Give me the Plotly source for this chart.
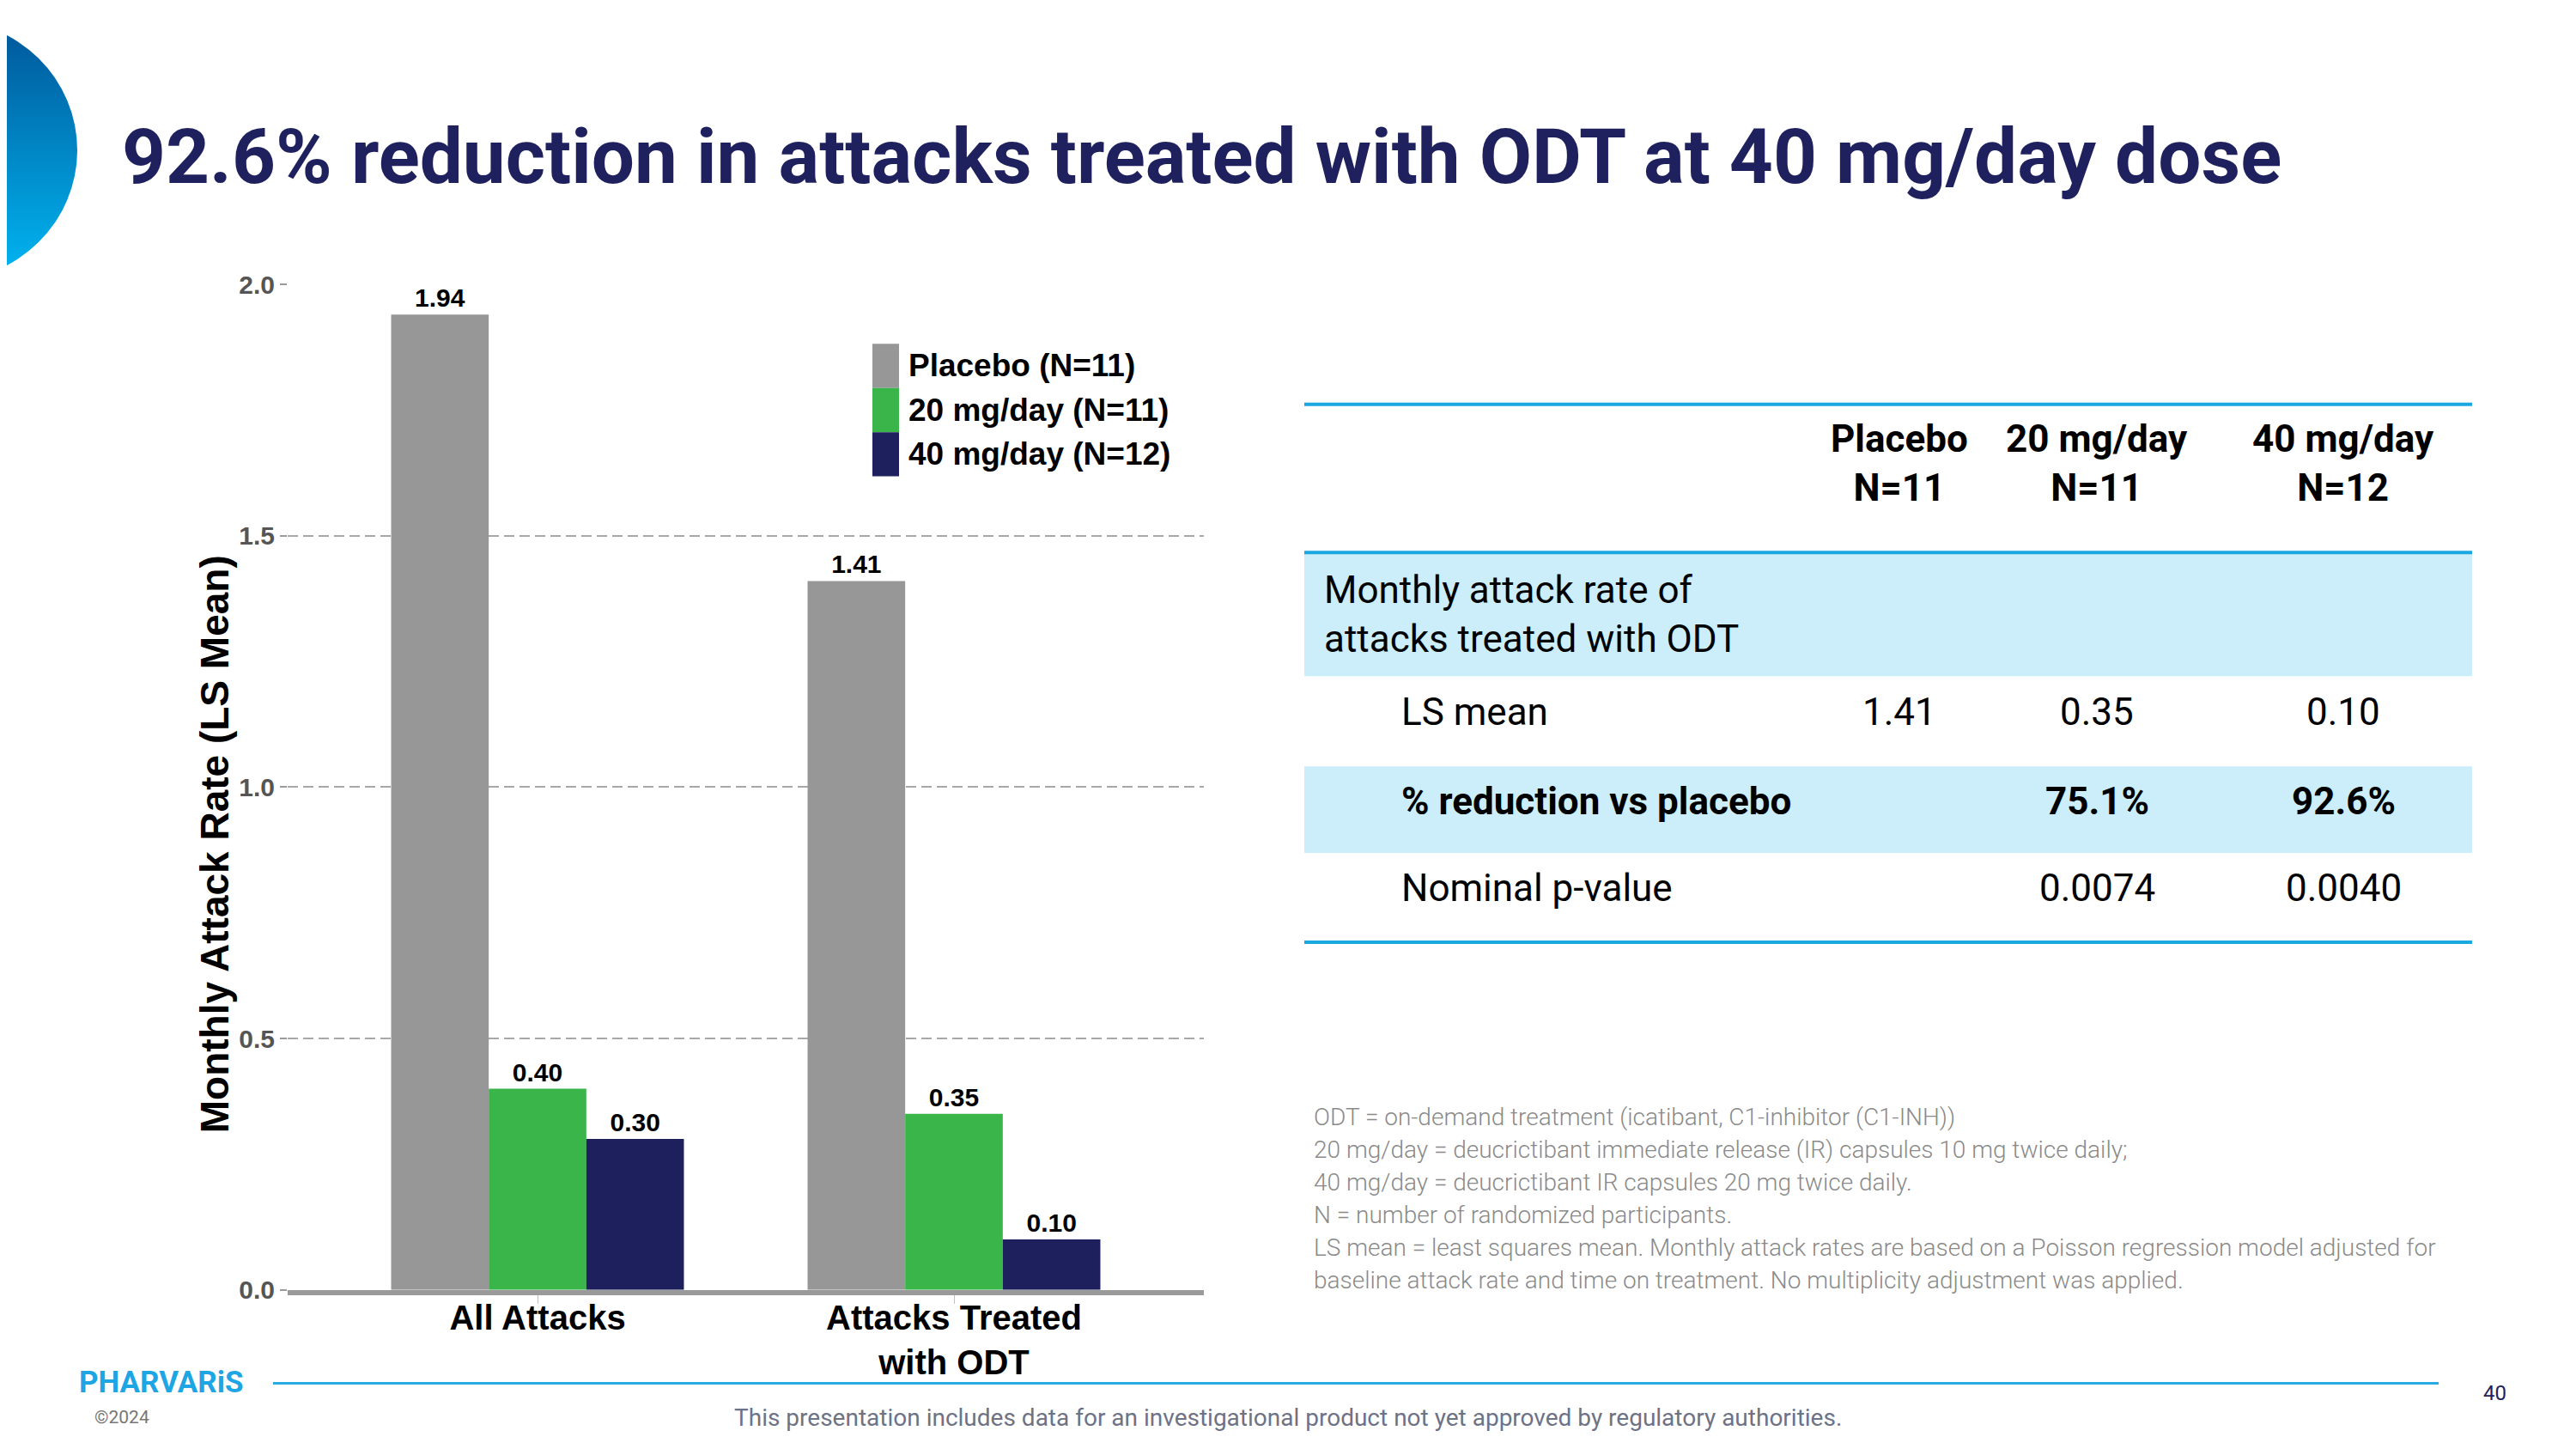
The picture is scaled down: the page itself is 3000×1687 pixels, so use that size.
import base64
import plotly.graph_objects as go

# ---- data ----
categories = ["All Attacks", "Attacks Treated<br>with ODT"]
series_names = ["Placebo (N=11)", "20 mg/day (N=11)", "40 mg/day (N=12)"]
placebo = [1.94, 1.41]
mg20 = [0.40, 0.35]
mg40 = [0.30, 0.10]
y_ticks = [0.0, 0.5, 1.0, 1.5, 2.0]

table_header = ["Placebo<br>N=11", "20 mg/day<br>N=11", "40 mg/day<br>N=12"]
section_label = "Monthly attack rate of<br>attacks treated with ODT"
row_labels = ["LS mean", "<b>% reduction vs placebo</b>", "Nominal p-value"]
ls_mean = ["1.41", "0.35", "0.10"]
pct_reduction = ["", "<b>75.1%</b>", "<b>92.6%</b>"]
p_values = ["", "0.0074", "0.0040"]

footnotes = [
    "ODT = on-demand treatment (icatibant, C1-inhibitor (C1-INH))",
    "20 mg/day = deucrictibant immediate release (IR) capsules 10 mg twice daily;",
    "40 mg/day = deucrictibant IR capsules 20 mg twice daily.",
    "N = number of randomized participants.",
    "LS mean = least squares mean. Monthly attack rates are based on a Poisson regression model adjusted for",
    "baseline attack rate and time on treatment. No multiplicity adjustment was applied.",
]

title = "92.6% reduction in attacks treated with ODT at 40 mg/day dose"
disclaimer = "This presentation includes data for an investigational product not yet approved by regulatory authorities."

bar_colors = ["#979797", "#3ab54a", "#1e205d"]
NAVY = "#1e215e"
BLUE = "#1ba8e0"
BAND = "#cbeefa"

W, H = 3000, 1687


def px(x):
    return x / W


def py(y):
    return 1 - y / H


fig = go.Figure()
for name, vals, col in zip(series_names, [placebo, mg20, mg40], bar_colors):
    fig.add_trace(go.Bar(
        x=categories, y=vals, name=name,
        marker=dict(color=col, line=dict(width=0)),
        texttemplate="%{y:.2f}", textposition="outside",
        textfont=dict(family="Liberation Sans", size=30, color="black", weight="bold"),
        cliponaxis=False, showlegend=False,
    ))

shapes = []
annotations = []

# legend drawn by hand (big square swatches like the slide)
for i, (name, col) in enumerate(zip(series_names, bar_colors)):
    top = 383 + i * 52.5
    shapes.append(dict(type="rect", xref="paper", yref="paper",
                       x0=px(1008), x1=px(1039), y0=py(top), y1=py(top + 52.5),
                       fillcolor=col, line=dict(width=0)))
    annotations.append(dict(text=name, x=px(1048), y=py(top + 26), xref="paper", yref="paper",
                            xanchor="left", yanchor="middle", showarrow=False,
                            font=dict(family="Liberation Sans", size=37, color="black", weight="bold")))

# y axis title
annotations.append(dict(text="Monthly Attack Rate (LS Mean)", textangle=-90,
                        x=px(242), y=py(978), xref="paper", yref="paper",
                        xanchor="center", yanchor="middle", showarrow=False,
                        font=dict(family="Liberation Sans", size=46, color="black", weight="bold")))

# slide title
annotations.append(dict(text=title, x=px(132), y=py(161), xref="paper", yref="paper",
                        xanchor="left", yanchor="middle", showarrow=False,
                        font=dict(family="Roboto", size=89, color=NAVY, weight="bold")))

# ---- table ----
tx0, tx1 = 1511, 2871
col_x = [2204, 2434, 2721]
for y0, y1 in [(631, 778), (885, 988)]:
    shapes.append(dict(type="rect", xref="paper", yref="paper", x0=px(tx0), x1=px(tx1),
                       y0=py(y0), y1=py(y1), fillcolor=BAND, line=dict(width=0), layer="below"))
for yl in [455, 631, 1094]:
    shapes.append(dict(type="line", xref="paper", yref="paper", x0=px(tx0), x1=px(tx1),
                       y0=py(yl), y1=py(yl), line=dict(color=BLUE, width=4)))

tfont = dict(family="Roboto", size=44, color="black")
for cx, h in zip(col_x, table_header):
    annotations.append(dict(text="<b>" + h + "</b>", x=px(cx), y=py(525), xref="paper", yref="paper",
                            xanchor="center", yanchor="middle", showarrow=False, font=tfont))
annotations.append(dict(text=section_label, x=px(1532), y=py(705), xref="paper", yref="paper",
                        xanchor="left", yanchor="middle", align="left", showarrow=False, font=tfont))
row_y = [821, 927, 1030]
for ry, lab, vals in zip(row_y, row_labels, [ls_mean, pct_reduction, p_values]):
    annotations.append(dict(text=lab, x=px(1622), y=py(ry), xref="paper", yref="paper",
                            xanchor="left", yanchor="middle", showarrow=False, font=tfont))
    for cx, v in zip(col_x, vals):
        if v:
            annotations.append(dict(text=v, x=px(cx), y=py(ry), xref="paper", yref="paper",
                                    xanchor="center", yanchor="middle", showarrow=False, font=tfont))

# footnotes
for i, line in enumerate(footnotes):
    annotations.append(dict(text=line, x=px(1520), y=py(1302 + i * 38.8), xref="paper", yref="paper",
                            xanchor="left", yanchor="middle", showarrow=False,
                            font=dict(family="Roboto", size=28, color="#8a8a8a", weight=300)))

# footer
shapes.append(dict(type="line", xref="paper", yref="paper", x0=px(310), x1=px(2832),
                   y0=py(1618), y1=py(1618), line=dict(color="#29abe2", width=3)))
annotations.append(dict(text="PHARVARiS", x=px(82), y=py(1617), xref="paper", yref="paper",
                        xanchor="left", yanchor="middle", showarrow=False,
                        font=dict(family="Roboto", size=35, color="#1ea5e4", weight="bold")))
annotations.append(dict(text="©2024", x=px(100), y=py(1658), xref="paper", yref="paper",
                        xanchor="left", yanchor="middle", showarrow=False,
                        font=dict(family="Roboto", size=21, color="#777777")))
annotations.append(dict(text=disclaimer, x=px(1492), y=py(1659), xref="paper", yref="paper",
                        xanchor="center", yanchor="middle", showarrow=False,
                        font=dict(family="Roboto", size=28, color="#6e7285")))
annotations.append(dict(text="40", x=px(2897), y=py(1630), xref="paper", yref="paper",
                        xanchor="center", yanchor="middle", showarrow=False,
                        font=dict(family="Roboto", size=24, color=NAVY)))

# blue half-disc in the top-left corner (gradient via inline svg)
svg = ("<svg xmlns='http://www.w3.org/2000/svg' width='90' height='310' viewBox='0 0 90 310'>"
       "<defs><linearGradient id='g' x1='0' y1='0' x2='0' y2='1'>"
       "<stop offset='0.05' stop-color='#005a9c'/><stop offset='0.95' stop-color='#00b2ee'/>"
       "</linearGradient></defs><circle cx='-73' cy='155' r='155' fill='url(#g)'/></svg>")
logo_src = "data:image/svg+xml;base64," + base64.b64encode(svg.encode()).decode()

fig.update_layout(
    width=W, height=H, margin=dict(l=0, r=0, t=0, b=0),
    paper_bgcolor="white", plot_bgcolor="white",
    barmode="group", bargap=0.297, bargroupgap=0,
    xaxis=dict(domain=[px(327), px(1394)], range=[-0.6, 1.6], type="category",
               showline=True, linecolor="#9a9a9a", linewidth=6,
               ticks="outside", ticklen=10, tickcolor="#c0c0c0", tickwidth=1,
               ticklabelstandoff=-18,
               tickfont=dict(family="Liberation Sans", size=40, color="black", weight="bold"),
               showgrid=False, zeroline=False),
    yaxis=dict(domain=[py(1507), py(312.5)], range=[0, 2.0],
               tickvals=y_ticks, tickformat=".1f",
               ticks="outside", ticklen=8, tickcolor="#9a9a9a", tickwidth=2,
               tickfont=dict(family="Liberation Sans", size=30, color="#555555", weight="bold"),
               showgrid=True, gridcolor="#a8a8a8", gridwidth=2, griddash="12px,6px",
               zeroline=False, showline=False),
    shapes=shapes, annotations=annotations,
    images=[dict(source=logo_src, xref="paper", yref="paper", x=0, y=py(-2),
                 sizex=px(90), sizey=310 / H, xanchor="left", yanchor="top",
                 sizing="stretch", layer="above")],
)

fig.write_html("out.html")
